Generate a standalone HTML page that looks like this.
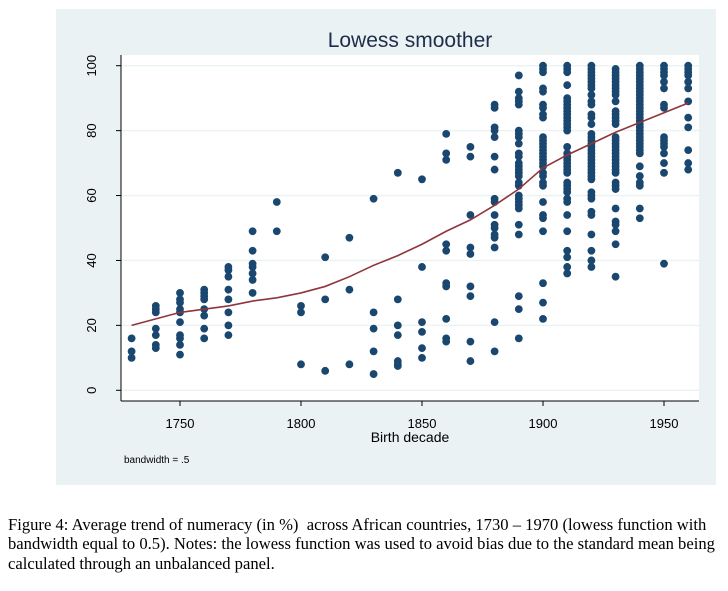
<!DOCTYPE html>
<html><head><meta charset="utf-8"><style>
body{margin:0;background:#fff;width:728px;height:591px;overflow:hidden;position:relative;font-family:"Liberation Sans",sans-serif}
#cap{position:absolute;left:8px;top:515px;width:714px;font-family:"Liberation Serif",serif;font-size:16.6px;line-height:19.3px;color:#000;white-space:normal}
</style></head><body>
<svg id="chart" width="728" height="500" style="position:absolute;left:0;top:0">
<rect x="56" y="9" width="660" height="476" fill="#eaf2f3"/>
<rect x="121" y="55" width="578" height="346" fill="#fff"/>
<text x="410" y="47" text-anchor="middle" font-size="21" fill="#1e2d4b">Lowess smoother</text>
<g id="grid"></g><g id="axes"></g><g id="pts"></g><g id="line"></g>
<text x="410" y="442" text-anchor="middle" font-size="14" fill="#000">Birth decade</text>
<text x="124" y="463" font-size="10" fill="#000">bandwidth = .5</text>
</svg>
<div id="cap">Figure 4: Average trend of numeracy (in %)&nbsp; across African countries, 1730 – 1970 (lowess function with bandwidth equal to 0.5). Notes: the lowess function was used to avoid bias due to the standard mean being calculated through an unbalanced panel.</div>
<script>
const decades=[1730,1740,1750,1760,1770,1780,1790,1800,1810,1820,1830,1840,1850,1860,1870,1880,1890,1900,1910,1920,1930,1940,1950,1960];
const values=[
[16,12,10],
[26,25,24,19,17,14,13],
[30,28,27,25,24,21,17,16,14,11],
[31,30,29,28,25,23,19,16],
[38,37,35,31,28,24,20,17],
[49,43,39,38,36,34,30],
[58,49],
[26,24,8],
[41,28,6],
[47,31,8],
[59,24,19,12,5],
[67,28,20,17,9,8,7.5],
[65,38,21,18,13,10],
[79,73,71,45,43,33,32,22,16,15],
[75,72,54,44,42,32,29,15,9],
[88,87,81,80,78,72,68,59,58,54,51,50,48,47,44,21,12],
[97,92,90,89,88,80,79,78,76,73,72,70,69,68,67,66,64,63,60,59,58,57,56,51,48,29,25,16],
[100,99,98,93,92,88,87,85,84,78,77,76,75,74,73,72,71,70,69,67,66,64,63,58,54,53,49,33,27,22],
[100,99,98,94,90,89,88,87,86,85,84,83,82,81,80,75,73,72,71,70,69,68,67,64,63,62,61,59,58,54,49,43,41,38,36],
[100,99,98,97,96,95,94,93,91,89,88,85,84,82,79,78,77,76,75,74,73,72,71,70,69,68,67,66,65,61,60,59,55,54,48,43,40,38],
[99,98,97,96,95,94,93,92,91,89,86,85,84,83,82,78,77,76,75,74,73,72,71,70,69,68,67,64,63,62,56,52,51,49,45,35],
[100,99,98,97,96,95,94,93,92,91,90,89,88,87,86,85,84,83,82,81,80,79,78,77,76,75,74,73,69,66,64,63,56,53],
[100,99,98,97,95,93,88,87,78,77,76,75,73,70,67,39],
[100,99,98,97,95,93,89,84,81,74,70,68]];
const lowessX=[1730,1750,1760,1770,1780,1790,1800,1810,1820,1830,1840,1850,1860,1870,1880,1890,1900,1910,1920,1930,1940,1950,1960];
const lowessY=[20,24,25,26,27.5,28.5,30,32,35,38.5,41.5,45,49,52.5,57,62,68.5,72.5,76,79.5,82.5,85.5,88.5];
const yTicks=[0,20,40,60,80,100];
const xTicks=[1750,1800,1850,1900,1950];
const NS="http://www.w3.org/2000/svg";
const sx=v=>180+(v-1750)*2.42, sy=v=>390.3-v*3.246;
function mk(p,t,a){const e=document.createElementNS(NS,t);for(const k in a)e.setAttribute(k,a[k]);document.getElementById(p).appendChild(e);return e;}
yTicks.forEach(t=>{
 const g=mk('grid','line',{x1:121,x2:699,y1:sy(t),y2:sy(t),stroke:'#eaf2f3','stroke-width':1.3});
 
 
 const k=mk('axes','line',{x1:116,x2:121,y1:sy(t),y2:sy(t),stroke:'#000'});
 
 
 const l=mk('axes','text',{x:0,y:0,'font-size':13,'text-anchor':'middle',transform:`translate(96,${sy(t)}) rotate(-90)`});
 l.textContent=t;
 
 
});
xTicks.forEach(t=>{
 const k=mk('axes','line',{x1:sx(t),x2:sx(t),y1:401,y2:406,stroke:'#000'});
 
 
 const l=mk('axes','text',{x:sx(t),y:428,'font-size':13,'text-anchor':'middle'});
 l.textContent=t;
 
 
});
const ya=mk('axes','line',{x1:121,x2:121,y1:55,y2:401,stroke:'#000'});


const xa=mk('axes','line',{x1:121,x2:699,y1:401,y2:401,stroke:'#000'});


decades.forEach((d,i)=>values[i].forEach(v=>{
 const c=mk('pts','circle',{cx:sx(d),cy:sy(v),r:3.9,fill:'#1a476f'});
 
 
}));
const pl=mk('line','polyline',{points:lowessX.map((x,i)=>sx(x)+','+sy(lowessY[i])).join(' '),fill:'none',stroke:'#90353b','stroke-width':1.6});


</script>
</body></html>
